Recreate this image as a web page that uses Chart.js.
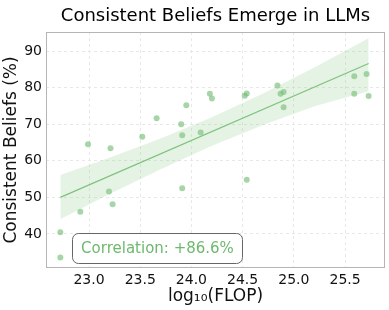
<!DOCTYPE html>
<html>
<head>
<meta charset="utf-8">
<script src="https://cdn.jsdelivr.net/npm/chart.js@4.4.1/dist/chart.umd.min.js"></script>
<style>
  html, body { margin: 0; padding: 0; background: #fff; }
  #wrap { width: 389px; height: 310px; }
</style>
</head>
<body>
<div id="wrap"><canvas id="c" width="389" height="310"></canvas></div>
<script>
// model points: log10(FLOP) vs consistent beliefs (%)
const flop = [22.72, 22.72, 22.915, 22.99, 23.21, 23.195, 23.23, 23.52, 23.66,
              23.95, 23.90, 23.91, 24.09, 24.18, 24.20, 23.91, 24.52, 24.54, 24.54,
              24.84, 24.87, 24.90, 24.90, 25.59, 25.71, 25.59, 25.73];
const beliefs = [40.5, 33.6, 46.1, 64.5, 63.4, 51.6, 48.1, 66.6, 71.6,
                 75.2, 70.0, 67.0, 67.7, 78.3, 77.0, 52.5, 77.8, 78.4, 54.8,
                 80.6, 78.3, 78.8, 74.6, 83.1, 83.7, 78.3, 77.7];

// regression line and confidence band
const fitX = [22.72, 25.73];
const fitY = [50.0, 86.6];
const bandX = [22.72, 23.2, 23.7, 24.2, 24.7, 25.2, 25.73];
const bandLow = [44.0, 50.9, 57.7, 64.1, 69.8, 74.9, 79.0];
const bandHigh = [56.1, 60.8, 66.1, 71.9, 78.4, 85.5, 93.5];

const xTicks = [23.0, 23.5, 24.0, 24.5, 25.0, 25.5];
const yTicks = [40, 50, 60, 70, 80, 90];
const correlationText = 'Correlation: +86.6%';
const titleText = 'Consistent Beliefs Emerge in LLMs';

const FONT = "'DejaVu Sans', sans-serif";
const green = 'rgb(120, 190, 120)';

const pts = (xs, ys) => xs.map((x, i) => ({ x: x, y: ys[i] }));

// title, frame and correlation box
const extras = {
    id: 'extras',
    afterDraw(chart) {
        const ctx = chart.ctx;
        const a = chart.chartArea;
        ctx.save();
        ctx.strokeStyle = '#b5b5b5';
        ctx.lineWidth = 1;
        ctx.strokeRect(a.left + 0.5, a.top + 0.5, a.right - a.left - 1, a.bottom - a.top - 1);

        ctx.fillStyle = '#000';
        ctx.font = '18px ' + FONT;
        ctx.textAlign = 'center';
        ctx.textBaseline = 'middle';
        ctx.fillText(titleText, (a.left + a.right) / 2, 16);

        // correlation label box
        const bx = a.left + 26.5, by = a.bottom - 34.5, bw = 170, bh = 30, r = 6;
        ctx.beginPath();
        ctx.roundRect(bx, by, bw, bh, r);
        ctx.fillStyle = 'rgba(255,255,255,0.9)';
        ctx.fill();
        ctx.strokeStyle = '#666';
        ctx.lineWidth = 1;
        ctx.stroke();
        ctx.fillStyle = 'rgb(110, 185, 110)';
        ctx.font = '15px ' + FONT;
        ctx.textAlign = 'center';
        ctx.fillText(correlationText, bx + bw / 2, by + bh / 2 + 1);
        ctx.restore();
    }
};

new Chart(document.getElementById('c'), {
    type: 'scatter',
    data: {
        datasets: [
            {
                data: pts(bandX, bandLow),
                showLine: true,
                borderWidth: 0,
                pointRadius: 0,
                fill: false,
            },
            {
                data: pts(bandX, bandHigh),
                showLine: true,
                borderWidth: 0,
                pointRadius: 0,
                backgroundColor: 'rgba(130, 200, 130, 0.22)',
                fill: '-1',
            },
            {
                data: pts(fitX, fitY),
                showLine: true,
                borderColor: 'rgb(125, 192, 125)',
                borderWidth: 1.2,
                pointRadius: 0,
            },
            {
                data: pts(flop, beliefs),
                pointRadius: 3,
                pointBorderWidth: 0,
                pointBackgroundColor: 'rgba(110, 185, 110, 0.6)',
            },
        ],
    },
    options: {
        responsive: false,
        animation: false,
        layout: { padding: { top: 32, right: 4, left: 0, bottom: 0 } },
        plugins: {
            legend: { display: false },
            tooltip: { enabled: false },
            title: { display: false },
        },
        scales: {
            x: {
                type: 'linear',
                min: 22.58,
                max: 25.89,
                afterBuildTicks: (s) => { s.ticks = xTicks.map(v => ({ value: v })); },
                afterFit: (s) => { s.height = 42; },
                ticks: {
                    font: { family: FONT, size: 14 },
                    color: '#111',
                    padding: 4,
                    callback: (v) => Number(v).toFixed(1),
                },
                grid: { color: '#e8e8e8', drawTicks: false, tickBorderDash: [3, 3] },
                border: { display: false, dash: [3, 3] },
                title: {
                    display: true,
                    text: 'log\u2081\u2080(FLOP)',
                    font: { family: FONT, size: 17 },
                    color: '#111',
                    padding: { top: 0, bottom: 3 },
                },
            },
            y: {
                type: 'linear',
                min: 30.7,
                max: 95.2,
                afterBuildTicks: (s) => { s.ticks = yTicks.map(v => ({ value: v })); },
                afterFit: (s) => { s.width = 46; },
                ticks: {
                    font: { family: FONT, size: 14 },
                    color: '#111',
                    padding: 4,
                },
                grid: { color: '#e8e8e8', drawTicks: false },
                border: { display: false, dash: [3, 3] },
                title: {
                    display: true,
                    text: 'Consistent Beliefs (%)',
                    font: { family: FONT, size: 17 },
                    color: '#111',
                    padding: { top: 1, bottom: 0 },
                },
            },
        },
    },
    plugins: [extras],
});
</script>
</body>
</html>
